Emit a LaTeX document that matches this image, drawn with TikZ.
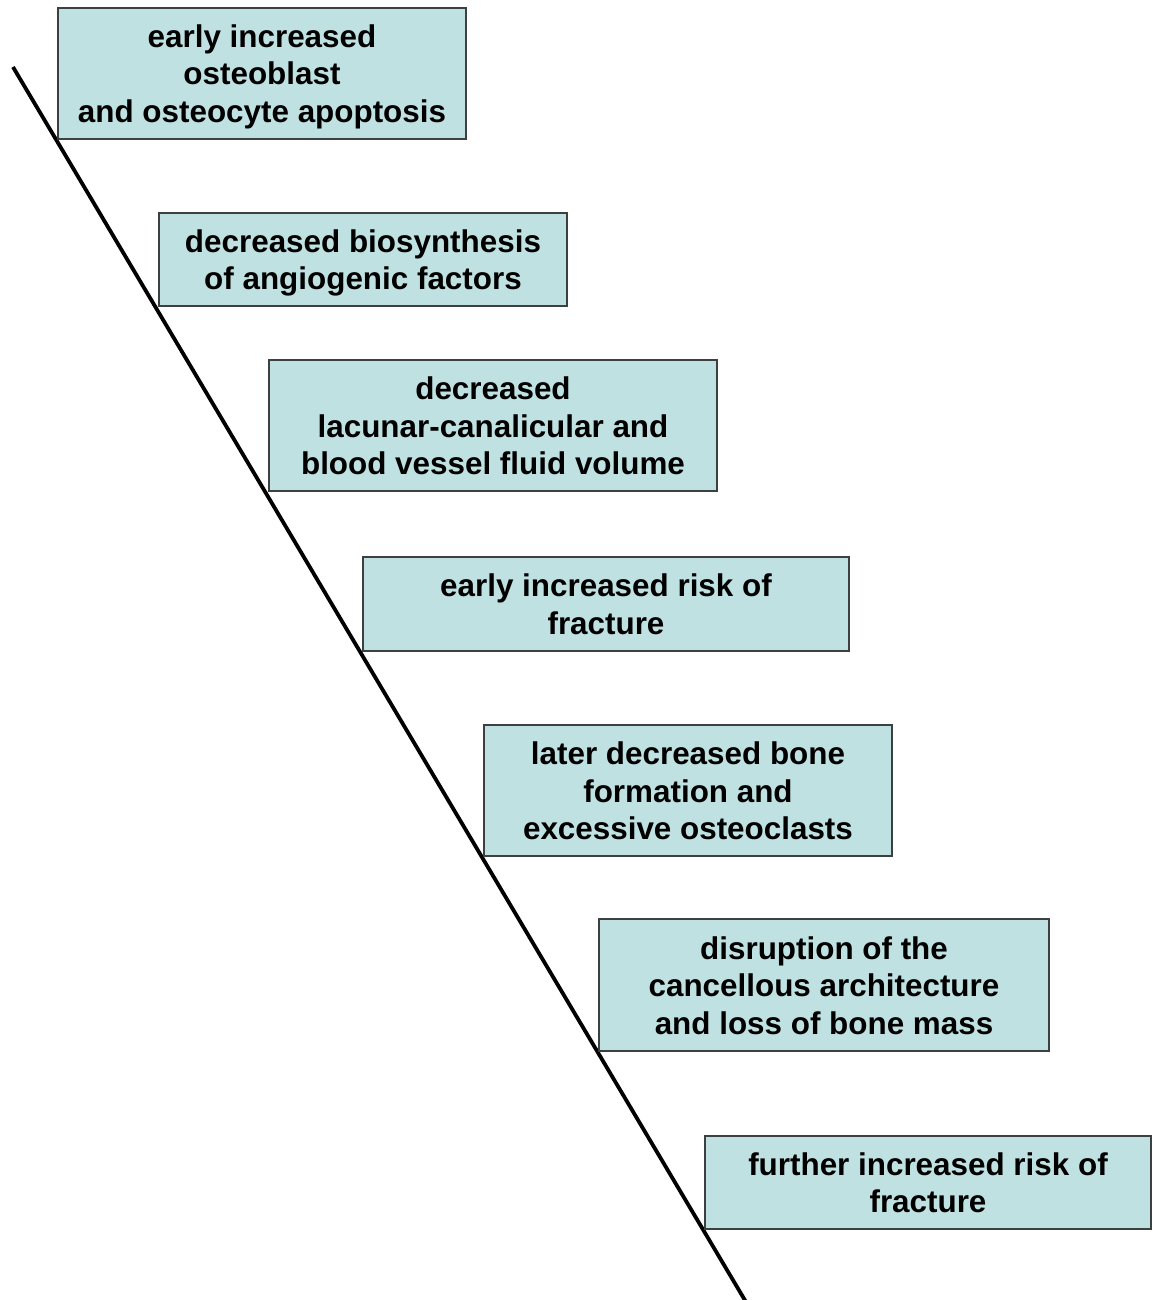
\documentclass[tikz,border=0pt]{standalone}
\usepackage{fontspec}
\setmainfont{Liberation Sans}
\definecolor{boxfill}{RGB}{192,225,226}
\definecolor{boxline}{RGB}{60,64,64}
\newcommand{\lnstrut}{\rule[-7.25pt]{0pt}{37.5pt}}
\begin{document}
\begin{tikzpicture}[x=1pt,y=1pt,
  stagebox/.style={draw=boxline, line width=1.3pt, fill=boxfill, rectangle,
    inner sep=0pt, align=center, font=\fontsize{31.4}{37.5}\selectfont\bfseries},
  timeline/.style={line width=3.8pt, black}]
\useasboundingbox (0,0) rectangle (1152,-1300);
\coordinate (top) at (13,-67);
\coordinate (bot) at (746,-1302);
\draw[timeline] (top) -- (bot);
\node[stagebox, minimum width=408pt, minimum height=131pt] (b1) at (262,-73.5)
  {\lnstrut early increased\\\lnstrut osteoblast\\\lnstrut and osteocyte apoptosis};
\node[stagebox, minimum width=408pt, minimum height=93pt] (b2) at (363,-259.5)
  {\lnstrut decreased biosynthesis\\\lnstrut of angiogenic factors};
\node[stagebox, minimum width=448pt, minimum height=131pt] (b3) at (493,-425.5)
  {\lnstrut decreased\\\lnstrut lacunar-canalicular and\\\lnstrut blood vessel fluid volume};
\node[stagebox, minimum width=486pt, minimum height=94pt] (b4) at (606,-604)
  {\lnstrut early increased risk of\\\lnstrut fracture};
\node[stagebox, minimum width=408pt, minimum height=131pt] (b5) at (688,-790.5)
  {\lnstrut later decreased bone\\\lnstrut formation and\\\lnstrut excessive osteoclasts};
\node[stagebox, minimum width=450pt, minimum height=132pt] (b6) at (824,-985)
  {\lnstrut disruption of the\\\lnstrut cancellous architecture\\\lnstrut and loss of bone mass};
\node[stagebox, minimum width=446pt, minimum height=93pt] (b7) at (928,-1182.5)
  {\lnstrut further increased risk of\\\lnstrut fracture};
\end{tikzpicture}
\end{document}
